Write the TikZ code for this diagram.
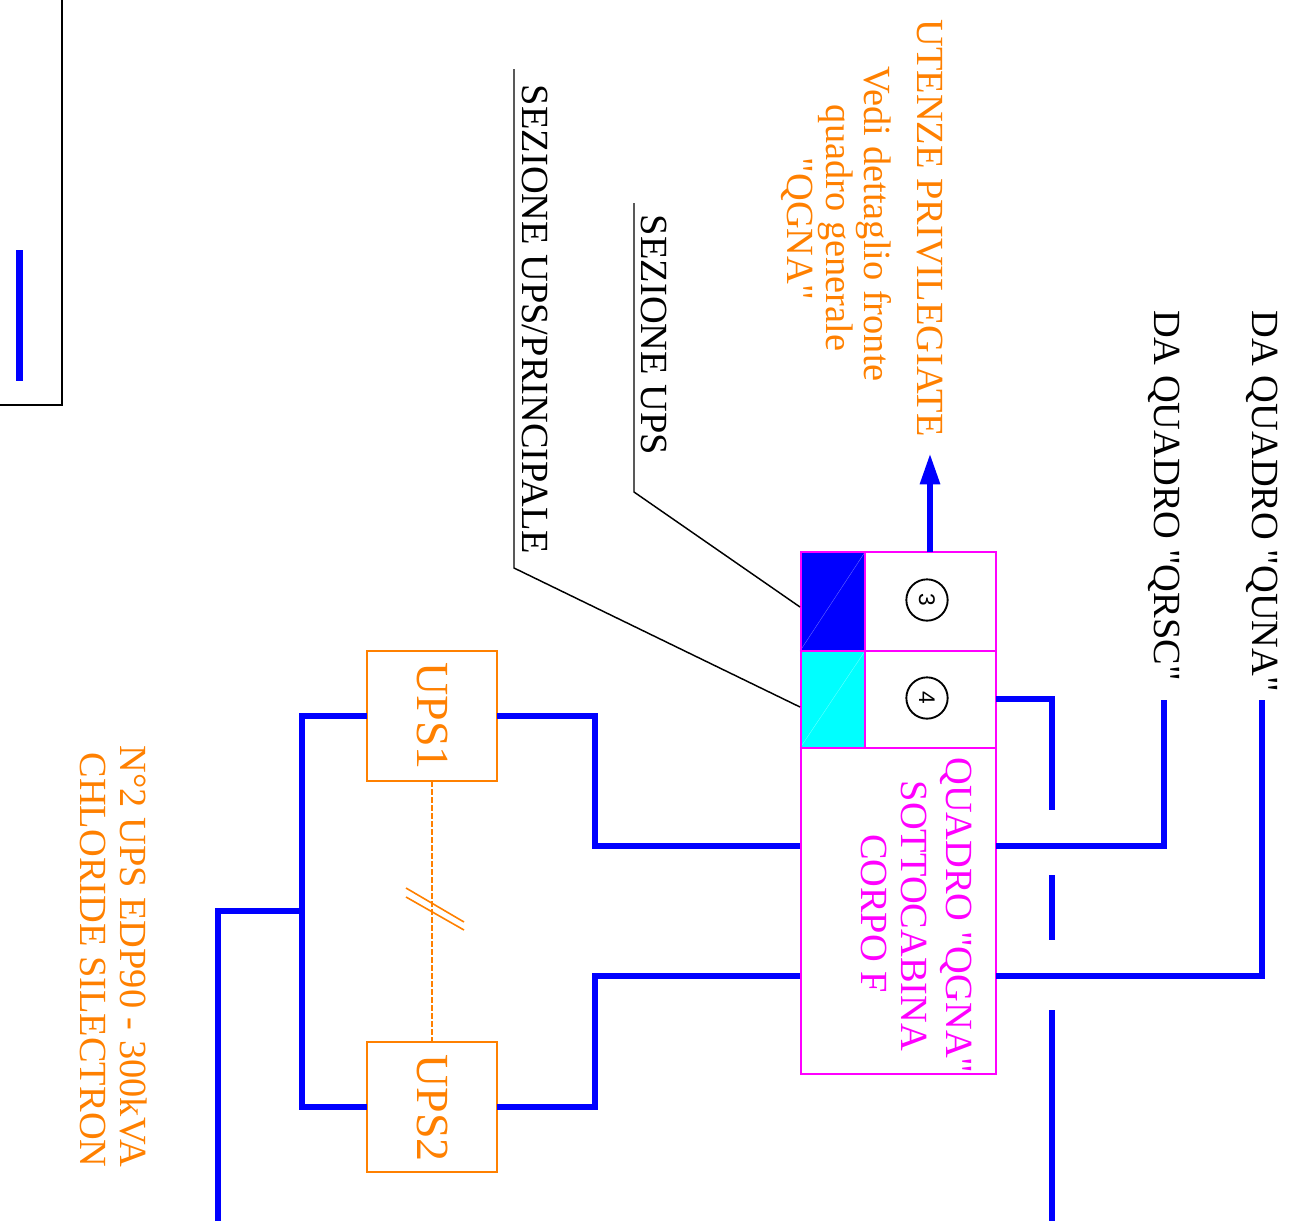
\documentclass[tikz,border=0pt]{standalone}
\usepackage{fontspec}
\newfontfamily\labelfont{Liberation Serif}
\newfontfamily\digitfont{Liberation Sans}
\usetikzlibrary{arrows.meta}
\definecolor{cblue}{RGB}{0,0,255}
\definecolor{cmag}{RGB}{255,0,255}
\definecolor{corange}{RGB}{255,128,0}
\definecolor{ccyan}{RGB}{0,255,255}
\tikzset{
  x=0.75pt,y=-0.75pt,
  feed/.style={draw=cblue,line width=4.3pt,line join=miter},
  leader/.style={draw=black,line width=1.1pt},
  rtext/.style={rotate=-90,anchor=base,inner sep=0pt,outer sep=0pt,font=\labelfont\fontsize{28.8}{32}\selectfont},
  blacktext/.style={rtext,text=black},
  orangetext/.style={rtext,text=corange},
  magtext/.style={rtext,text=cmag},
  upstext/.style={rtext,text=corange,font=\labelfont\fontsize{34.5}{36}\selectfont},
  upsbox/.style={draw=corange,line width=1.2pt,minimum width=97.5pt,minimum height=97.5pt,inner sep=0pt,outer sep=0pt},
  magbox/.style={draw=cmag,line width=1.5pt,inner sep=0pt,outer sep=0pt},
  numcircle/.style={circle,draw=black,line width=1.4pt,minimum size=31pt,inner sep=0pt,font=\digitfont\fontsize{17}{18}\selectfont},
}
\begin{document}
\begin{tikzpicture}
\useasboundingbox (0,0) rectangle (1293,1221);
% far-left frame
\coordinate (frameA) at (62,0);
\coordinate (frameB) at (62,405);
\coordinate (frameC) at (0,405);
\draw[black,line width=1.6pt] (frameA) -- (frameB) -- (frameC);
\coordinate (markA) at (19.5,250);
\coordinate (markB) at (19.5,381);
\draw[feed,line width=5pt] (markA) -- (markB);
% main panel
\fill[cblue] (800,552) rectangle (865,651);
\fill[ccyan] (800,651) rectangle (865,748);
\draw[cblue!55!white,line width=0.25pt] (800,651) -- (865,552);
\draw[ccyan!55!white,line width=0.25pt] (800,748) -- (865,651);
\node[magbox,minimum width=146.25pt,minimum height=391.5pt] (panel) at (898,813) {};
\coordinate (panelTopFeed) at (930,552);
\draw[magbox] (865,552) -- (865,748);
\draw[magbox] (800,651) -- (996,651);
\draw[magbox] (800,748) -- (996,748);
\node[numcircle] (n3) at (927,600) {\rotatebox{-90}{3}};
\node[numcircle] (n4) at (927,698) {\rotatebox{-90}{4}};
% UPS boxes
\node[upsbox] (ups1) at (432,716) {};
\node[upsbox] (ups2) at (432,1107) {};
\node[upstext] (ups1t) at (417,716) {UPS1};
\node[upstext] (ups2t) at (417,1108) {UPS2};
\draw[corange,line width=1.1pt,dash pattern=on 4.5pt off 1.5pt] (ups1.south) -- (ups2.north);
\coordinate (slashA1) at (406,888);
\coordinate (slashA2) at (464,922);
\coordinate (slashB1) at (406,897);
\coordinate (slashB2) at (464,930);
\draw[corange,line width=1.2pt] (slashA1) -- (slashA2);
\draw[corange,line width=1.2pt] (slashB1) -- (slashB2);
% feeders
\coordinate (quna) at (1262,700);
\coordinate (qrsc) at (1164,700);
\coordinate (p4out) at (996,699);
\coordinate (pR1) at (996,846);
\coordinate (pR2) at (996,976);
\coordinate (pL1) at (800,846);
\coordinate (pL2) at (800,976);
\draw[feed] (quna) |- (pR2);
\draw[feed] (qrsc) |- (pR1);
\coordinate (segA) at (1052,810);
\coordinate (segB1) at (1052,875);
\coordinate (segB2) at (1052,940);
\coordinate (segC1) at (1052,1010);
\coordinate (segC2) at (1052,1221);
\draw[feed] (p4out) -| (segA);
\draw[feed] (segB1) -- (segB2);
\draw[feed] (segC1) -- (segC2);
\coordinate (tipU) at (930,453);
\draw[feed,line width=5pt,-{Triangle[length=23.5pt,width=14pt]}] (panelTopFeed) -- (tipU);
\coordinate (bendL1) at (595,846);
\coordinate (bendL2) at (595,976);
\draw[feed] (pL1) -- (bendL1) |- (ups1.east);
\draw[feed] (pL2) -- (bendL2) |- (ups2.east);
\coordinate (busTop) at (302,716);
\coordinate (busBot) at (302,1107);
\draw[feed] (ups1.west) -- (busTop) -- (busBot) -- (ups2.west);
\coordinate (busMid) at (302,911);
\coordinate (busOut) at (218,1221);
\draw[feed] (busMid) -| (busOut);
% leaders
\coordinate (lead3a) at (634,203);
\coordinate (lead3b) at (634,492);
\coordinate (lead3c) at (800,607);
\draw[leader] (lead3a) -- (lead3b) -- (lead3c);
\coordinate (lead4a) at (514,69);
\coordinate (lead4b) at (514,568);
\coordinate (lead4c) at (800,707);
\draw[leader] (lead4a) -- (lead4b) -- (lead4c);
% texts
\node[blacktext] (tquna) at (1252,501.5) {DA QUADRO "QUNA"};
\node[blacktext] (tqrsc) at (1154,495.5) {DA QUADRO "QRSC"};
\node[orangetext] (u1) at (917,228) {UTENZE PRIVILEGIATE};
\node[orangetext] (u2) at (864,224) {Vedi dettaglio fronte};
\node[orangetext] (u3) at (826,228) {quadro generale};
\node[orangetext] (u4) at (787,229) {"QGNA"};
\node[blacktext] (ts1) at (641,335) {SEZIONE UPS};
\node[blacktext] (ts2) at (522,319.5) {SEZIONE UPS/PRINCIPALE};
\node[magtext] (q1) at (946,915.5) {QUADRO "QGNA"};
\node[magtext] (q2) at (901,916) {SOTTOCABINA};
\node[magtext] (q3) at (861,913.5) {CORPO F};
\node[orangetext] (c1) at (120,956.5) {N°2 UPS EDP90 - 300kVA};
\node[orangetext] (c2) at (80,960) {CHLORIDE SILECTRON};
\end{tikzpicture}
\end{document}
